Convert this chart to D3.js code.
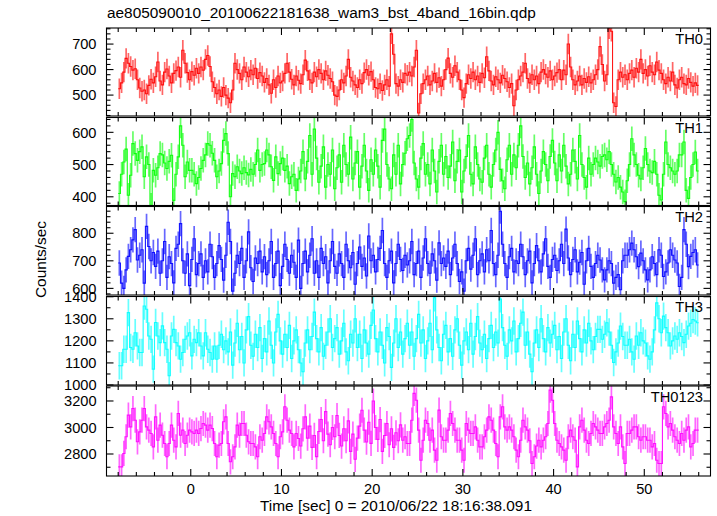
<!DOCTYPE html>
<html><head><meta charset="utf-8">
<script src="https://cdn.jsdelivr.net/npm/d3@7"></script>
<style>body{margin:0;background:#fff} text{font-family:"Liberation Sans",Arial,Helvetica,sans-serif;fill:#000}</style>
</head><body><svg id="c" width="717" height="516"></svg>
<script>
const title = "ae805090010_20100622181638_wam3_bst_4band_16bin.qdp";
const xLabel = "Time [sec] 0 = 2010/06/22 18:16:38.091";
const yLabel = "Counts/sec";
const bandNames = ["TH0","TH1","TH2","TH3","TH0123"];
const binStart = -8, binWidth = 0.25;
const xTickLabels = [0,10,20,30,40,50];

const th0 = [
525,548,590,644,625,612,598,603,560,528,515,520,505,538,562,548,
572,630,555,540,590,602,575,548,585,596,610,570,676,625,588,560,
592,578,605,585,610,598,640,655,612,552,530,505,520,495,530,500,
488,470,520,625,600,585,560,610,590,572,598,580,605,565,588,575,
550,565,540,507,560,530,575,548,555,585,625,590,562,540,575,558,
545,580,637,595,560,548,590,572,600,585,560,595,578,565,552,500,
495,520,560,548,575,640,570,555,540,530,560,545,588,600,578,592,
560,530,525,545,518,540,560,535,740,660,545,535,560,550,585,578,
590,575,610,676,430,505,545,560,575,540,555,585,550,568,535,560,
600,645,585,570,615,590,560,520,490,545,580,565,590,560,575,550,
585,568,650,595,555,540,572,560,548,578,565,552,530,545,458,520,
560,575,590,625,565,548,580,560,575,545,590,600,582,570,595,560,
575,588,600,560,598,580,700,610,560,540,555,575,540,565,550,572,
548,560,580,600,690,620,555,580,760,750,470,455,560,590,570,580,
560,585,598,570,605,590,640,585,600,575,615,590,580,630,598,585,
560,545,570,555,590,540,528,560,570,545,540,565,550,535,548,538];
const th1 = [
410,470,508,548,405,467,565,534,513,540,555,462,524,500,374,482,
467,490,534,530,505,488,510,529,389,470,524,620,560,462,508,482,
482,470,441,460,488,513,530,565,560,535,513,462,480,503,575,596,
534,400,472,462,493,480,472,490,475,468,485,470,500,545,482,500,
503,545,530,493,451,524,472,503,520,482,495,441,462,470,420,455,
480,540,455,510,590,470,610,520,445,495,555,430,500,470,545,425,
490,530,445,560,500,470,585,455,505,540,430,495,560,480,420,515,
470,545,495,430,575,610,500,455,425,530,470,560,440,500,535,580,
590,640,505,455,430,520,565,470,500,440,545,480,415,510,560,470,
525,460,495,570,450,510,545,415,480,525,590,470,440,555,500,455,
445,520,560,470,430,500,545,600,485,450,425,515,560,470,530,490,
560,620,525,460,505,440,490,555,470,410,480,540,500,450,525,575,
505,450,530,480,560,495,440,470,545,510,455,590,500,460,430,520,
470,500,520,508,495,525,530,515,540,500,470,446,460,430,415,385,
450,500,580,530,500,467,455,490,550,500,480,475,510,470,405,390,
470,570,500,490,480,470,480,530,530,570,420,395,460,500,539,480];
const th2 = [
692,619,600,667,716,740,776,813,703,720,740,619,825,752,700,730,
680,735,655,700,770,640,715,690,620,745,760,835,700,655,725,610,
705,780,650,690,725,640,700,660,760,715,640,690,755,705,630,720,
840,770,590,655,720,690,745,640,700,805,675,625,710,690,735,660,
715,650,700,770,640,690,735,610,680,760,705,655,720,695,640,775,
600,690,735,660,720,780,655,700,640,745,690,715,620,700,770,680,
655,725,690,640,760,700,675,730,615,690,750,680,710,645,790,700,
720,660,705,745,810,690,640,700,735,620,690,760,705,665,720,685,
700,770,650,690,735,640,710,780,690,655,725,700,630,765,690,710,
680,735,650,710,760,690,625,660,590,700,745,670,720,780,650,700,
725,660,740,700,810,690,650,720,880,760,690,640,715,745,660,700,
690,760,715,650,700,735,620,690,755,700,660,725,780,680,640,705,
720,665,700,760,690,815,710,650,705,740,660,695,730,615,700,745,
680,640,690,720,703,667,631,667,700,690,619,640,650,595,700,720,
720,740,764,740,715,679,728,700,667,631,667,715,690,650,740,720,
643,660,692,740,720,703,692,607,640,813,760,679,716,730,740,685];
const th3 = [
1087,1087,1162,1162,1328,1170,1162,1237,1177,1147,1147,1358,1343,1222,1207,1072,
1283,1222,1192,1268,1192,1162,1042,1222,1252,1192,1177,1117,1147,1207,1222,1237,
1132,1207,1192,1237,1177,1132,1237,1162,1147,1117,1177,1117,1180,1230,1160,1200,
1150,1240,1090,1190,1280,1160,1220,1100,1250,1310,1180,1130,1230,1170,1260,1120,
1210,1150,1290,1180,1100,1240,1320,1200,1140,1230,1170,1270,1120,1200,1250,1160,
1100,1060,1190,1250,1160,1220,1330,1210,1150,1260,1130,1180,1240,1300,1170,1210,
1260,1140,1200,1280,1150,1110,1230,1190,1300,1170,1230,1120,1250,1190,1140,1270,
1340,1210,1150,1240,1180,1100,1260,1220,1080,1190,1300,1170,1240,1140,1210,1280,
1180,1240,1130,1210,1320,1190,1250,1120,1200,1280,1160,1395,1250,1170,1110,1230,
1270,1150,1210,1130,1250,1300,1180,1090,1200,1240,1160,1280,1140,1220,1310,1190,
1160,1230,1120,1210,1270,1170,1240,1190,1390,1260,1180,1130,1250,1200,1290,1150,
1210,1280,1330,1180,1240,1140,1060,1190,1250,1170,1300,1210,1150,1260,1190,1230,
1270,1160,1220,1120,1240,1300,1180,1110,1230,1170,1290,1210,1150,1250,1190,1280,
1200,1160,1220,1252,1252,1207,1230,1282,1240,1180,1102,1150,1190,1267,1220,1180,
1180,1207,1150,1117,1222,1180,1237,1200,1190,1132,1117,1150,1250,1372,1300,1237,
1312,1260,1237,1177,1200,1222,1207,1237,1220,1192,1230,1267,1280,1297,1290,1282];
const th0123 = [
2703,2703,2804,2930,3093,3005,3143,3055,2892,2967,3055,3143,3005,2980,2955,2854,
3080,2904,3018,2942,2879,2779,2879,3018,2904,2854,3106,2942,2980,2879,2942,2980,
2967,2955,2980,2955,2992,3030,3018,2980,3018,2992,2879,2779,2867,2879,3043,3080,
2879,2741,2779,2854,3018,2942,3030,3030,2942,2892,2879,2879,2854,2779,2930,2904,
2955,3080,3043,3005,2955,2879,2779,2930,2967,3156,3055,2980,2955,2854,2955,2917,
2860,2990,3080,2920,3010,2850,2940,2780,2970,3060,2900,3120,2950,2870,3000,2930,
3090,2940,2860,2990,2900,3050,2820,2950,2760,2920,3010,3130,2980,2890,3040,2880,
3200,3000,2910,3060,2820,2940,3030,2870,2990,2850,2960,2900,3020,2904,2930,2879,
2879,3055,3257,3206,2980,2753,2904,3055,3030,2904,2980,2829,2753,3131,2930,2904,
2904,2980,3106,3030,2980,2904,2904,2829,2753,3030,2980,2955,2955,3005,2904,2854,
2854,2930,2980,3080,3055,2980,2879,2779,3080,3156,3005,2980,3005,2980,2930,2829,
2779,2904,3055,3005,2980,2900,2728,2779,2860,2904,2854,2904,2930,3030,3282,3206,
3030,2904,2879,2854,2829,2753,2930,2980,2930,2904,2703,3005,3055,2980,2904,2879,
2955,3030,3005,2980,2955,2955,3005,3030,3055,3231,3005,2955,2879,3005,2854,2728,
2955,2955,2980,3005,3005,2930,2904,2930,2930,2904,2904,2854,2879,2753,2728,2728,
3156,3106,3005,3030,2980,2930,2904,2879,2955,2904,2980,3005,2854,2879,2980,2980];

const series = [th0, th1, th2, th3, th0123];
const errHalf = [40, 38, 46, 62, 95];
const yTickLabels = [[500,600,700],[400,500,600],[600,700,800],[1000,1100,1200,1300,1400],[2800,3000,3200]];
const yMinorStep = [20,20,20,50,100];
const yDomains = [[418,763],[373,646],[576,897],[1000,1401],[2634,3313]];
const colors = ["#ff0000","#00ff00","#0000ff","#00ffff","#ff00ff"];

// layout
const L = 106.5, R = 710.5;
const tops = [28, 117.5, 206.5, 296.5, 386];
const bottoms = [116, 205.5, 295, 385, 476];

const svg = d3.select("#c");
const x = d3.scaleLinear().domain([-9.29, 57.3]).range([L, R]);
const xMinor = d3.range(-8, 58, 2);

svg.append("text").attr("x", 107).attr("y", 18).attr("font-size", "15.4px").text(title);

series.forEach((vals, p) => {
  const y = d3.scaleLinear().domain(yDomains[p]).range([bottoms[p], tops[p]]);
  const g = svg.append("g");
  const clipId = "clip" + p;
  svg.append("clipPath").attr("id", clipId).append("rect")
    .attr("x", L).attr("y", tops[p]).attr("width", R - L).attr("height", bottoms[p] - tops[p]);
  const dg = g.append("g").attr("clip-path", `url(#${clipId})`);
  const pts = vals.map((v, i) => ({t: binStart + i * binWidth, v}));
  dg.selectAll("line.err").data(pts).enter().append("line")
    .attr("x1", d => x(d.t + binWidth / 2)).attr("x2", d => x(d.t + binWidth / 2))
    .attr("y1", d => y(d.v - errHalf[p])).attr("y2", d => y(d.v + errHalf[p]))
    .attr("stroke", colors[p]).attr("stroke-opacity", 0.6).attr("stroke-width", 1.7);
  const stepPts = pts.concat([{t: binStart + vals.length * binWidth, v: vals[vals.length - 1]}]);
  const line = d3.line().x(d => x(d.t)).y(d => y(d.v)).curve(d3.curveStepAfter);
  dg.append("path").attr("d", line(stepPts)).attr("fill", "none")
    .attr("stroke", colors[p]).attr("stroke-width", 1.1).attr("stroke-opacity", 0.9);

  g.append("rect").attr("x", L).attr("y", tops[p]).attr("width", R - L).attr("height", bottoms[p] - tops[p])
    .attr("fill", "none").attr("stroke", "#000").attr("stroke-width", 1.1);
  const tk = g.append("g").attr("stroke", "#000").attr("stroke-width", 1.1);
  xMinor.forEach(t => {
    const len = (t % 10 === 0) ? 7 : 4;
    tk.append("line").attr("x1", x(t)).attr("x2", x(t)).attr("y1", bottoms[p]).attr("y2", bottoms[p] - len);
    tk.append("line").attr("x1", x(t)).attr("x2", x(t)).attr("y1", tops[p]).attr("y2", tops[p] + len);
  });
  const [d0, d1] = yDomains[p];
  const minor = d3.range(Math.ceil(d0 / yMinorStep[p]) * yMinorStep[p], d1 + 0.001, yMinorStep[p]);
  minor.forEach(v => {
    const major = yTickLabels[p].includes(v);
    const len = major ? 7 : 4;
    tk.append("line").attr("x1", L).attr("x2", L + len).attr("y1", y(v)).attr("y2", y(v));
    tk.append("line").attr("x1", R).attr("x2", R - len).attr("y1", y(v)).attr("y2", y(v));
  });
  yTickLabels[p].forEach(v => {
    g.append("text").attr("x", 96.5).attr("y", y(v)).attr("dy", "0.36em")
      .attr("text-anchor", "end").attr("font-size", "14.6px").text(v);
  });
  g.append("text").attr("x", 703).attr("y", tops[p] + 15.5).attr("text-anchor", "end")
    .attr("font-size", "14.7px").text(bandNames[p]);
});

xTickLabels.forEach(t => {
  svg.append("text").attr("x", x(t)).attr("y", 493.5).attr("text-anchor", "middle")
    .attr("font-size", "14.6px").text(t);
});
svg.append("text").attr("x", 396).attr("y", 510.5).attr("text-anchor", "middle")
  .attr("font-size", "15.4px").text(xLabel);
svg.append("text").attr("transform", "translate(46,259.5) rotate(-90)").attr("text-anchor", "middle")
  .attr("font-size", "15.4px").text(yLabel);
</script></body></html>
